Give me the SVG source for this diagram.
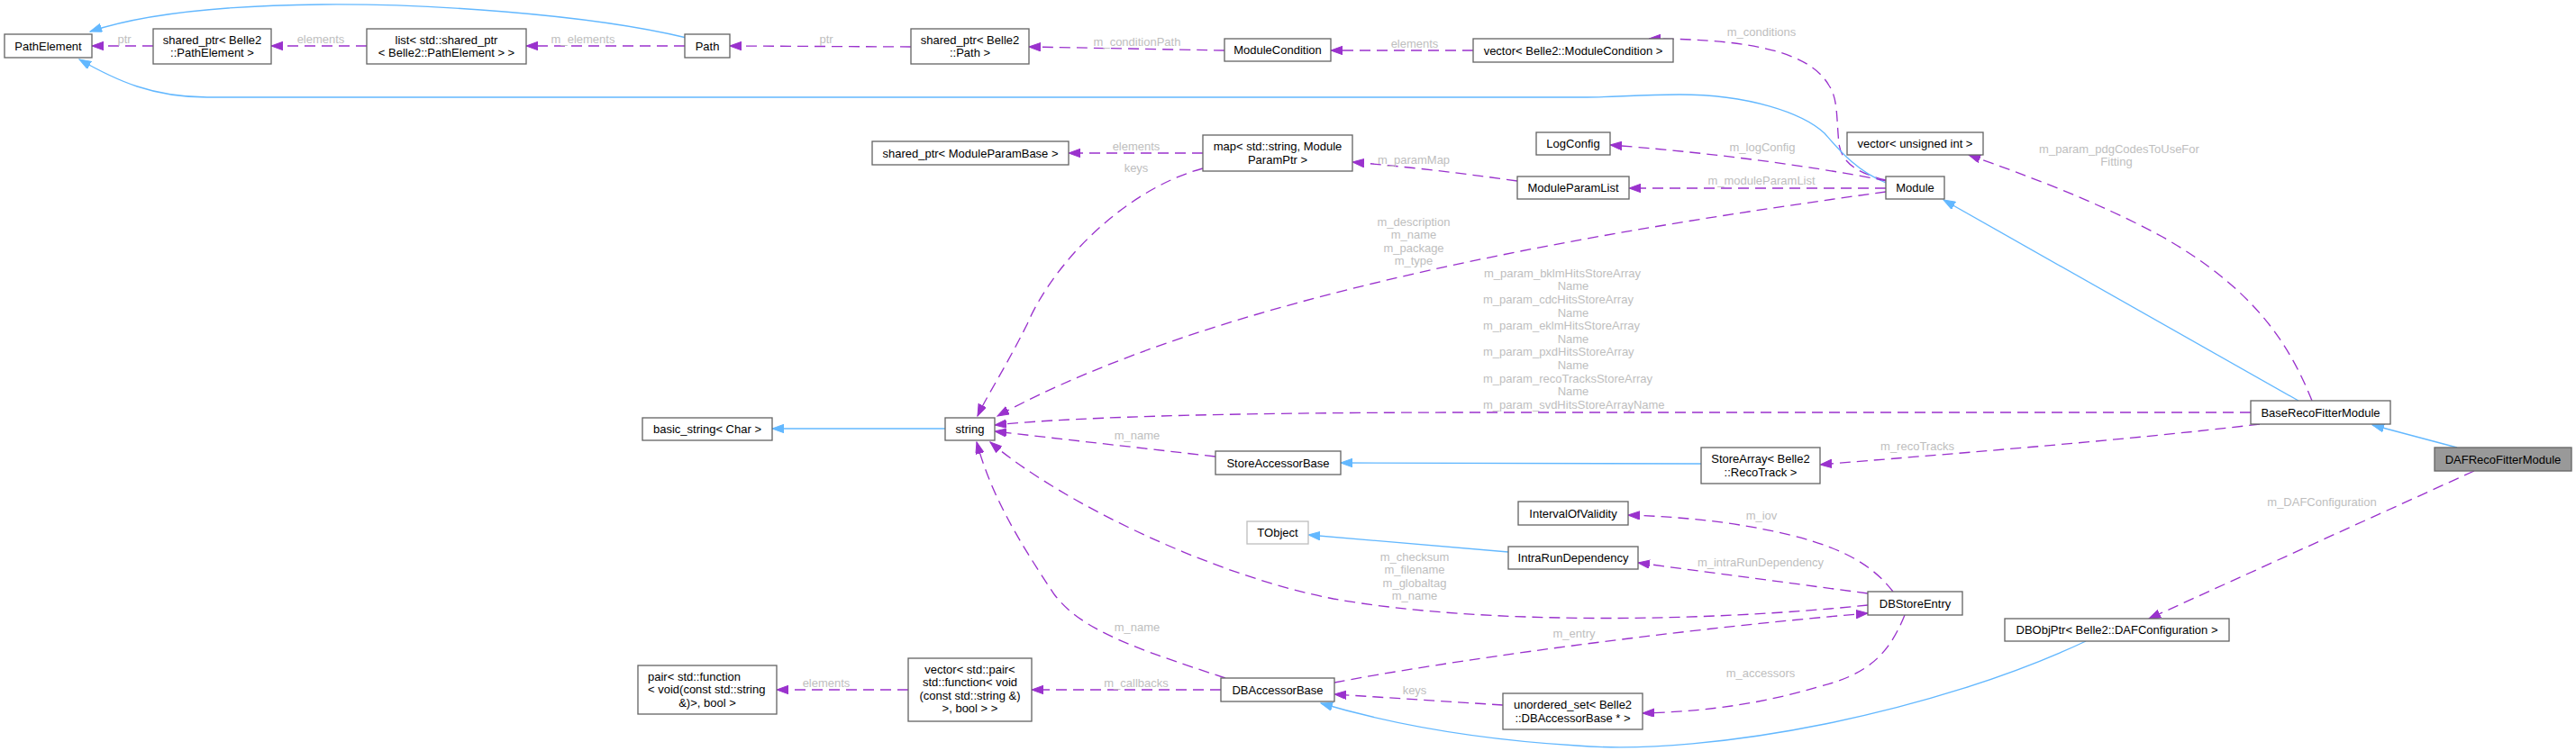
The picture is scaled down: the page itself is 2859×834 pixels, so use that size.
<svg xmlns="http://www.w3.org/2000/svg" width="2859" height="834" viewBox="0 0 2859 834">
<style>
.bg{fill:#ffffff}
.node rect{fill:#ffffff;stroke:#666666;stroke-width:1.33}
.node.grey rect{stroke:#bfbfbf}
.node.cur rect{fill:#999999;stroke:#666666}
text{font-family:"Liberation Sans",Arial,Helvetica,sans-serif;font-size:13px}
.node text{fill:#000000;text-anchor:middle}
.node text.l{text-anchor:start}
.lbl{fill:#bebebe;text-anchor:middle}
.lbl.l{text-anchor:start}
.dep{fill:none;stroke:#9a32cd;stroke-width:1.33;stroke-dasharray:12,7;marker-end:url(#ap)}
.inh{fill:none;stroke:#63b8ff;stroke-width:1.33;marker-end:url(#ab)}
</style>
<defs>
<marker id="ap" markerUnits="userSpaceOnUse" markerWidth="14" markerHeight="10" refX="13" refY="4.7" orient="auto">
<path d="M0,0 L13,4.7 L0,9.4 z" fill="#9a32cd" stroke="#9a32cd" stroke-width="1"/>
</marker>
<marker id="ab" markerUnits="userSpaceOnUse" markerWidth="14" markerHeight="10" refX="13" refY="4.7" orient="auto">
<path d="M0,0 L13,4.7 L0,9.4 z" fill="#63b8ff" stroke="#63b8ff" stroke-width="1"/>
</marker>
</defs>
<rect class="bg" x="0" y="0" width="2859" height="834"/>

<g id="connectors">
<path class="dep" d="M170,51 L102,51"/>
<path class="dep" d="M407,51 L301,51"/>
<path class="dep" d="M760,51 L584,51"/>
<path class="inh" d="M762,42 C650,15 470,4 357,5 C250,6 160,15 100,35"/>
<path class="dep" d="M1011,52 L810,51"/>
<path class="dep" d="M1359,56 C1300,55 1200,53 1142,52"/>
<path class="dep" d="M1635,56 L1477,56"/>
<path class="dep" d="M2093,200 C2060,192 2044,180 2041,160 C2038,130 2040,110 2030,95 C2010,60 1950,43 1830,43"/>
<path class="inh" d="M2093,203 C2060,190 2040,165 2025,148 C2000,125 1940,105 1864,105 C1820,105 1790,108 1761,108 L230,108 C170,108 130,90 88,66"/>
<path class="dep" d="M2094,201 C2000,182 1880,168 1787,161"/>
<path class="dep" d="M2093,209 L1808,209"/>
<path class="dep" d="M1684,201 C1620,192 1560,185 1501,180"/>
<path class="dep" d="M1335,170 L1186,170"/>
<path class="dep" d="M1335,187 C1250,210 1170,290 1140,360 C1115,410 1095,440 1085,462"/>
<path class="dep" d="M2093,213 C1750,260 1350,330 1107,462"/>
<path class="dep" d="M2498,458 L1640,458 C1400,458 1200,462 1104,472"/>
<path class="dep" d="M1349,507 L1104,479"/>
<path class="dep" d="M2073,672 C1900,690 1650,695 1480,665 C1350,640 1180,560 1099,491"/>
<path class="dep" d="M1360,753 C1260,720 1200,700 1170,660 C1130,600 1100,550 1084,491"/>
<path class="inh" d="M1049,476 L857,476"/>
<path class="inh" d="M1888,515 L1488,514"/>
<path class="dep" d="M2508,471 C2350,490 2150,505 2020,516"/>
<path class="inh" d="M2551,445 L2157,222"/>
<path class="dep" d="M2566,445 C2540,380 2500,320 2400,263 C2330,225 2250,195 2185,172"/>
<path class="inh" d="M2727,497 L2633,472"/>
<path class="dep" d="M2746,523 L2385,687"/>
<path class="inh" d="M2315,712 C2150,790 1900,840 1750,828 C1620,820 1530,800 1466,781"/>
<path class="dep" d="M2101,657 C2080,630 2050,610 1990,595 C1930,580 1870,574 1807,572"/>
<path class="dep" d="M2073,659 L1818,625"/>
<path class="inh" d="M1674,613 L1452,594"/>
<path class="dep" d="M1481,758 C1600,735 1850,700 2073,681"/>
<path class="dep" d="M2114,683 C2095,730 2070,750 2017,763 C1960,780 1900,790 1823,792"/>
<path class="dep" d="M1668,783 L1481,771"/>
<path class="dep" d="M1355,766 L1145,766"/>
<path class="dep" d="M1008,766 L862,766"/>

<text class="lbl" x="138" y="47.5">ptr</text>
<text class="lbl" x="356" y="47.5">elements</text>
<text class="lbl" x="647" y="47.5">m_elements</text>
<text class="lbl" x="917" y="47.5">ptr</text>
<text class="lbl" x="1262" y="50.5">m_conditionPath</text>
<text class="lbl" x="1570" y="52.5">elements</text>
<text class="lbl" x="1955" y="39.5">m_conditions</text>
<text class="lbl" x="1261" y="166.5">elements</text>
<text class="lbl" x="1261" y="190.5">keys</text>
<text class="lbl" x="1569" y="181.5">m_paramMap</text>
<text class="lbl" x="1956" y="167.5">m_logConfig</text>
<text class="lbl" x="1955" y="204.5">m_moduleParamList</text>
<text class="lbl" x="1569" y="250.5">m_description</text>
<text class="lbl" x="1569" y="265.1">m_name</text>
<text class="lbl" x="1569" y="279.7">m_package</text>
<text class="lbl" x="1569" y="294.3">m_type</text>
<text class="lbl l" x="1647" y="307.8">m_param_bklmHitsStoreArray</text>
<text class="lbl" x="1746" y="322.4">Name</text>
<text class="lbl l" x="1646" y="337">m_param_cdcHitsStoreArray</text>
<text class="lbl" x="1746" y="351.6">Name</text>
<text class="lbl l" x="1646" y="366.2">m_param_eklmHitsStoreArray</text>
<text class="lbl" x="1746" y="380.8">Name</text>
<text class="lbl l" x="1646" y="395.4">m_param_pxdHitsStoreArray</text>
<text class="lbl" x="1746" y="410">Name</text>
<text class="lbl l" x="1646" y="424.6">m_param_recoTracksStoreArray</text>
<text class="lbl" x="1746" y="439.2">Name</text>
<text class="lbl l" x="1646" y="453.8">m_param_svdHitsStoreArrayName</text>
<text class="lbl" x="2352" y="169.5">m_param_pdgCodesToUseFor</text>
<text class="lbl" x="2349" y="184">Fitting</text>
<text class="lbl" x="1262" y="487.5">m_name</text>
<text class="lbl" x="2128" y="499.5">m_recoTracks</text>
<text class="lbl" x="2577" y="561.5">m_DAFConfiguration</text>
<text class="lbl" x="1955" y="576.5">m_iov</text>
<text class="lbl" x="1954" y="628.5">m_intraRunDependency</text>
<text class="lbl" x="1570" y="622.5">m_checksum</text>
<text class="lbl" x="1570" y="637.1">m_filename</text>
<text class="lbl" x="1570" y="651.7">m_globaltag</text>
<text class="lbl" x="1570" y="666.3">m_name</text>
<text class="lbl" x="1747" y="707.5">m_entry</text>
<text class="lbl" x="1262" y="700.5">m_name</text>
<text class="lbl" x="1954" y="751.5">m_accessors</text>
<text class="lbl" x="1570" y="770.5">keys</text>
<text class="lbl" x="1261" y="762.5">m_callbacks</text>
<text class="lbl" x="917" y="762.5">elements</text>
</g>

<g id="PathElement" class="node"><rect x="5" y="38" width="97" height="26"/><text x="53.5" y="55.5">PathElement</text></g>
<g id="shared_ptr_PathElement" class="node"><rect x="170" y="32" width="131" height="39"/><text x="235.5" y="48.7">shared_ptr&lt; Belle2</text><text x="235.5" y="63.3">::PathElement &gt;</text></g>
<g id="list_shared_ptr_PathElement" class="node"><rect x="407" y="32" width="177" height="39"/><text x="495.5" y="48.7">list&lt; std::shared_ptr</text><text x="495.5" y="63.3">&lt; Belle2::PathElement &gt; &gt;</text></g>
<g id="Path" class="node"><rect x="760" y="38" width="50" height="26"/><text x="785" y="55.5">Path</text></g>
<g id="shared_ptr_Path" class="node"><rect x="1011" y="32" width="131" height="39"/><text x="1076.5" y="48.7">shared_ptr&lt; Belle2</text><text x="1076.5" y="63.3">::Path &gt;</text></g>
<g id="ModuleCondition" class="node"><rect x="1359" y="43" width="118" height="25"/><text x="1418" y="60">ModuleCondition</text></g>
<g id="vector_ModuleCondition" class="node"><rect x="1635" y="43" width="222" height="26"/><text x="1746" y="60.5">vector&lt; Belle2::ModuleCondition &gt;</text></g>
<g id="shared_ptr_ModuleParamBase" class="node"><rect x="968" y="157" width="218" height="26"/><text x="1077" y="174.5">shared_ptr&lt; ModuleParamBase &gt;</text></g>
<g id="map_string_ModuleParamPtr" class="node"><rect x="1335" y="150" width="166" height="40"/><text x="1418" y="167.2">map&lt; std::string, Module</text><text x="1418" y="181.8">ParamPtr &gt;</text></g>
<g id="LogConfig" class="node"><rect x="1705" y="147" width="82" height="25"/><text x="1746" y="164">LogConfig</text></g>
<g id="vector_unsigned_int" class="node"><rect x="2050" y="147" width="151" height="25"/><text x="2125.5" y="164">vector&lt; unsigned int &gt;</text></g>
<g id="ModuleParamList" class="node"><rect x="1684" y="196" width="124" height="25"/><text x="1746" y="213">ModuleParamList</text></g>
<g id="Module" class="node"><rect x="2093" y="196" width="65" height="25"/><text x="2125.5" y="213">Module</text></g>
<g id="basic_string_Char" class="node"><rect x="713" y="464" width="144" height="25"/><text x="785" y="481">basic_string&lt; Char &gt;</text></g>
<g id="string" class="node"><rect x="1049" y="464" width="55" height="25"/><text x="1076.5" y="481">string</text></g>
<g id="StoreAccessorBase" class="node"><rect x="1349" y="501" width="139" height="26"/><text x="1418.5" y="518.5">StoreAccessorBase</text></g>
<g id="StoreArray_RecoTrack" class="node"><rect x="1888" y="497" width="132" height="40"/><text x="1954" y="514">StoreArray&lt; Belle2</text><text x="1954" y="528.6">::RecoTrack &gt;</text></g>
<g id="BaseRecoFitterModule" class="node"><rect x="2498" y="445" width="155" height="26"/><text x="2575.5" y="462.5">BaseRecoFitterModule</text></g>
<g id="DAFRecoFitterModule" class="node cur"><rect x="2702" y="497" width="152" height="26"/><text x="2778" y="514.5">DAFRecoFitterModule</text></g>
<g id="IntervalOfValidity" class="node"><rect x="1685" y="557" width="122" height="26"/><text x="1746" y="574.5">IntervalOfValidity</text></g>
<g id="TObject" class="node grey"><rect x="1384" y="579" width="68" height="25"/><text x="1418" y="596">TObject</text></g>
<g id="IntraRunDependency" class="node"><rect x="1674" y="607" width="144" height="25"/><text x="1746" y="624">IntraRunDependency</text></g>
<g id="DBStoreEntry" class="node"><rect x="2073" y="657" width="105" height="26"/><text x="2125.5" y="674.5">DBStoreEntry</text></g>
<g id="DBObjPtr_DAFConfiguration" class="node"><rect x="2225" y="687" width="249" height="25"/><text x="2349.5" y="704">DBObjPtr&lt; Belle2::DAFConfiguration &gt;</text></g>
<g id="pair_function_bool" class="node"><rect x="708" y="739" width="154" height="54"/><text class="l" x="719" y="755.5">pair&lt; std::function</text><text class="l" x="719" y="770">&lt; void(const std::string</text><text x="785" y="784.5">&amp;)&gt;, bool &gt;</text></g>
<g id="vector_pair_function_bool" class="node"><rect x="1008" y="731" width="137" height="70"/><text x="1076.5" y="747.5">vector&lt; std::pair&lt;</text><text x="1076.5" y="762">std::function&lt; void</text><text x="1076.5" y="776.5">(const std::string &amp;)</text><text x="1076.5" y="791">&gt;, bool &gt; &gt;</text></g>
<g id="DBAccessorBase" class="node"><rect x="1355" y="753" width="126" height="26"/><text x="1418" y="770.5">DBAccessorBase</text></g>
<g id="unordered_set_DBAccessorBase" class="node"><rect x="1668" y="770" width="155" height="40"/><text x="1745.5" y="787">unordered_set&lt; Belle2</text><text x="1745.5" y="801.6">::DBAccessorBase * &gt;</text></g>
</svg>
